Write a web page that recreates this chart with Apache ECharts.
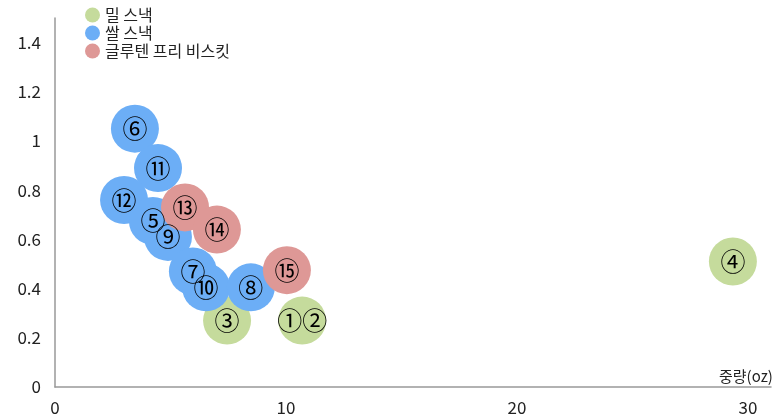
<!DOCTYPE html>
<html><head><meta charset="utf-8">
<script src="https://cdn.jsdelivr.net/npm/echarts@6/dist/echarts.min.js"></script>
<style>html,body{margin:0;padding:0;background:#fff}#c{width:780px;height:420px}</style>
</head><body><div id="c"></div>
<script>
const seriesNames = ['밀 스낵', '쌀 스낵', '글루텐 프리 비스킷'];
const wheatLabels = ['①②', '③', '④'];
const wheatX = [10.7, 7.45, 29.35];
const wheatY = [0.27, 0.27, 0.51];
const riceLabels = ['⑥', '⑪', '⑫', '⑤', '⑨', '⑦', '⑩', '⑧'];
const riceX = [3.46, 4.46, 2.99, 4.24, 4.89, 5.97, 6.54, 8.48];
const riceY = [1.05, 0.89, 0.76, 0.675, 0.61, 0.47, 0.405, 0.405];
const gfLabels = ['⑬', '⑭', '⑮'];
const gfX = [5.63, 7.01, 10.04];
const gfY = [0.73, 0.64, 0.475];
const colors = ['#C5DB9C', '#6CAEF6', '#DE9896'];
const xAxisName = '중량(oz)';

function pts(xs, ys, labels) { return xs.map((x, i) => ({ value: [x, ys[i]], name: labels[i] })); }
const FONT = '"Noto Sans CJK KR", "Noto Sans", sans-serif';
const mk = (i, d) => ({
  name: seriesNames[i], type: 'scatter', data: d, symbolSize: 48,
  itemStyle: { color: colors[i], opacity: 1 },
  label: { show: true, position: 'inside', formatter: p => p.name, color: '#000', fontSize: 25, fontFamily: FONT },
  emphasis: { disabled: true }
});
const chart = echarts.init(document.getElementById('c'));
chart.setOption({
  animation: false,
  color: colors,
  legend: {
    left: 80, top: 2, orient: 'vertical', itemGap: 2, itemWidth: 15, itemHeight: 15,
    icon: 'circle', data: seriesNames,
    textStyle: { fontSize: 16, color: '#222', fontFamily: FONT }
  },
  grid: { left: 55, right: 9, top: 18, bottom: 33 },
  xAxis: {
    type: 'value', min: 0, max: 31, interval: 10,
    name: xAxisName, nameLocation: 'end', nameGap: -52,
    nameTextStyle: { fontSize: 15, color: '#222', fontFamily: FONT, verticalAlign: 'bottom', padding: [0, 0, 3, 0] },
    axisLine: { show: true, lineStyle: { color: '#999', width: 1.5 } },
    axisTick: { show: false }, splitLine: { show: false },
    axisLabel: { fontSize: 17, color: '#222', fontFamily: FONT, margin: 12,
      formatter: v => (v % 10 === 0 && v <= 30 ? String(v) : '') }
  },
  yAxis: {
    type: 'value', min: 0, max: 1.5, interval: 0.2,
    axisLine: { show: true, lineStyle: { color: '#999', width: 1.5 } },
    axisTick: { show: false }, splitLine: { show: false },
    axisLabel: { fontSize: 17, color: '#222', fontFamily: FONT, margin: 14,
      formatter: v => (v > 1.45 ? '' : String(Math.round(v * 10) / 10)) }
  },
  series: [
    mk(0, pts(wheatX, wheatY, wheatLabels)),
    mk(1, pts(riceX, riceY, riceLabels)),
    mk(2, pts(gfX, gfY, gfLabels))
  ]
});
</script></body></html>
